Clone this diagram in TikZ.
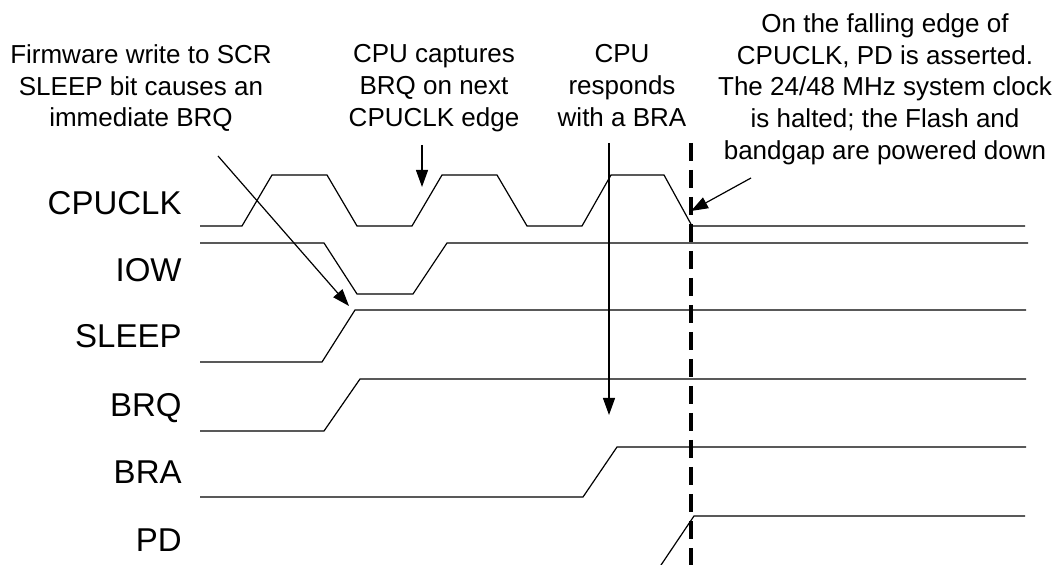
\documentclass[tikz,border=0pt]{standalone}
\usepackage{fontspec}
\setmainfont{Liberation Sans}
\usetikzlibrary{arrows.meta}
\tikzset{
  wave/.style={line width=0.6pt,line join=miter},
  callout/.style={line width=0.6pt,-{Triangle[length=8.5pt,width=6pt]}},
  edgemark/.style={line width=1.7pt,dash pattern=on 9pt off 4.5pt},
  siglbl/.style={anchor=base east,inner sep=0pt,font=\fontsize{16.5}{20}\selectfont},
  note/.style={anchor=north,inner sep=0pt,align=center,font=\fontsize{13}{15.9}\selectfont}
}

\begin{document}
\begin{tikzpicture}[x=0.5pt,y=-0.5pt]
\useasboundingbox (0,0) rectangle (1058,565);
% signal names
\foreach \sig/\yb in {CPUCLK/215,IOW/282,SLEEP/348,BRQ/417,BRA/484,PD/551}
  \node[siglbl] (lbl-\sig) at (182,\yb) {\sig};
% waveforms
\draw[wave] (200,226) -- (242,226) -- (272,175) -- (327,175) -- (357,226) -- (412,226)
  -- (442,175) -- (497,175) -- (527,226) -- (582,226) -- (611,175) -- (664,175)
  -- (692,226) -- (1025,226);
\draw[wave] (200,243) -- (324,243) -- (357,294) -- (413,294) -- (447,243) -- (1028,243);
\draw[wave] (200,362) -- (322,362) -- (355,310) -- (1026,310);
\draw[wave] (200,431) -- (324,431) -- (360,379) -- (1026,379);
\draw[wave] (200,497) -- (583,497) -- (617,447) -- (1026,447);
\draw[wave] (659,568) -- (694,516) -- (1025,516);
% falling edge of CPUCLK
\coordinate (pdTop) at (691,143);
\coordinate (pdBot) at (691,570);
\draw[edgemark] (pdTop) -- (pdBot);
% notes
\node[note] (firmNote) at (141,44) {Firmware write to SCR\\SLEEP bit causes an\\immediate BRQ};
\node[note] (captNote) at (434,44) {CPU captures\\BRQ on next\\CPUCLK edge};
\node[note] (braNote) at (622,44) {CPU\\responds\\with a BRA};
\node[note] (pdNote) at (885,13) {On the falling edge of\\CPUCLK, PD is asserted.\\The 24/48 MHz system clock\\is halted; the Flash and\\bandgap are powered down};
% arrows
\coordinate (firmTail) at (218,156);
\coordinate (sleepRise) at (349,306);
\coordinate (captTail) at (422,145);
\coordinate (clkRise) at (422,187);
\coordinate (braTail) at (609,143);
\coordinate (braHead) at (609,415);
\coordinate (pdTail) at (751,178);
\coordinate (clkFall) at (691,211);
\draw[callout] (firmTail) -- (sleepRise);
\draw[callout] (captTail) -- (clkRise);
\draw[callout] (braTail) -- (braHead);
\draw[callout] (pdTail) -- (clkFall);
\end{tikzpicture}
\end{document}
